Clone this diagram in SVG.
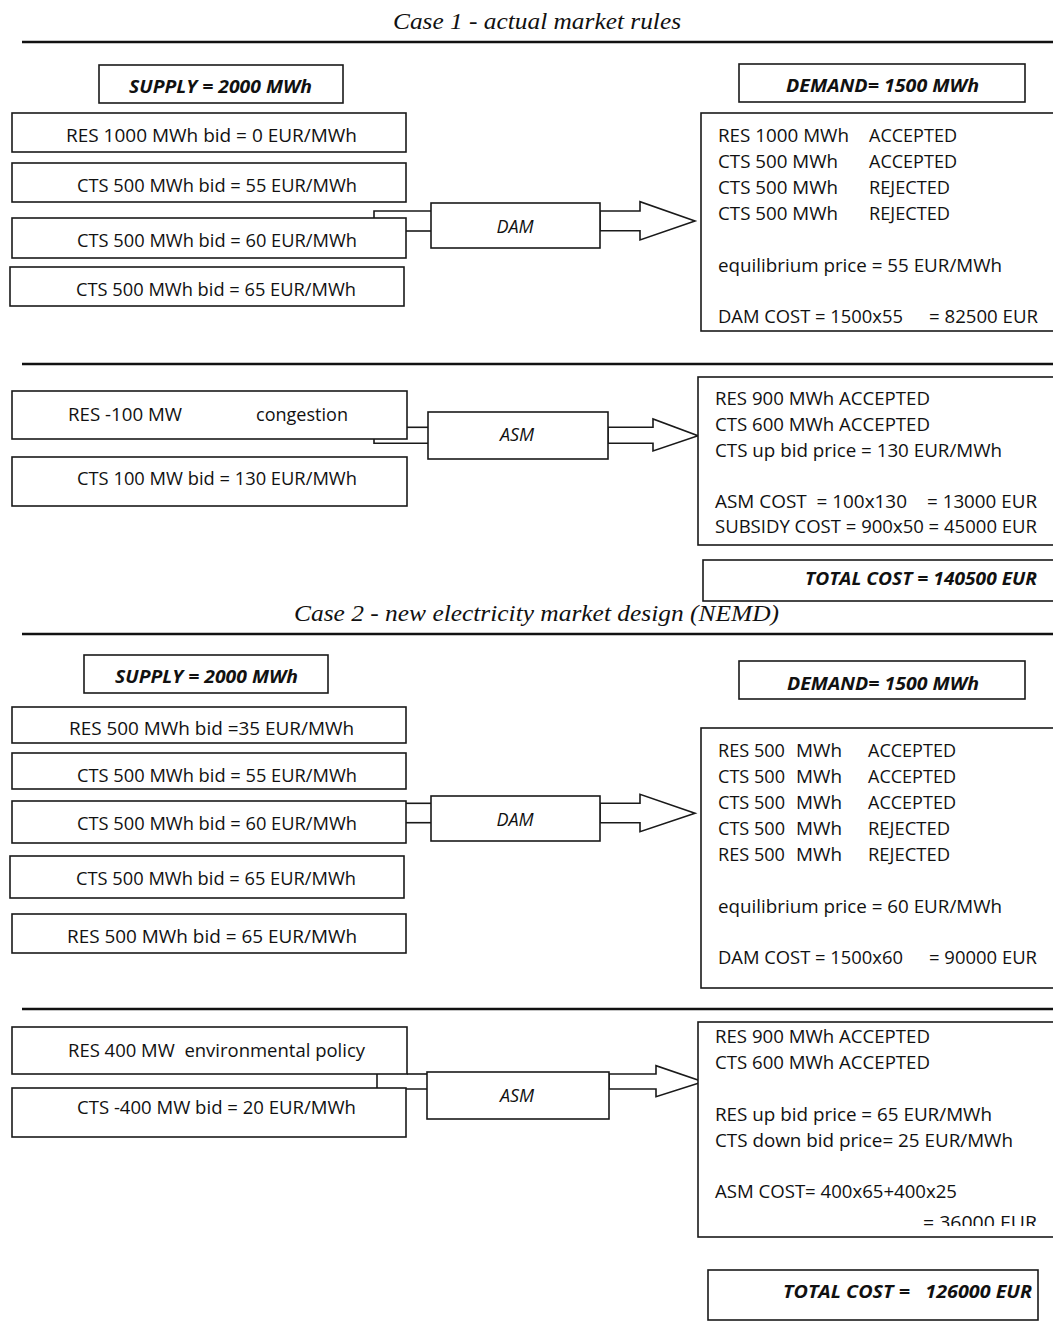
<svg xmlns="http://www.w3.org/2000/svg" width="1053" height="1322" viewBox="0 0 1053 1322">
<style>
.b{fill:#fff;stroke:#1a1a1a;stroke-width:1.6}
.t{font-family:"Open Sans","Liberation Sans",sans-serif;font-size:18px;fill:#111}
.bi{font-weight:bold;font-style:italic}
.i{font-style:italic}
.h{font-family:"Liberation Serif",serif;font-style:italic;font-size:24px;fill:#111}
.rule{stroke:#111;stroke-width:2.5}
.c{fill:none;stroke:#1a1a1a;stroke-width:1.6}
.ar{fill:#fff;stroke:#1a1a1a;stroke-width:1.6;stroke-linejoin:miter}
</style>
<defs>
<clipPath id="clip36"><rect x="900" y="1200" width="160" height="26"/></clipPath>
</defs>
<rect width="1053" height="1322" fill="#fff"/>

<g id="titles">
<text class="h" x="393" y="29" textLength="288" lengthAdjust="spacingAndGlyphs">Case 1 - actual market rules</text>
<text class="h" x="294" y="621" textLength="485" lengthAdjust="spacingAndGlyphs">Case 2 - new electricity market design (NEMD)</text>
</g>
<g id="rules">
<line class="rule" x1="22" y1="42" x2="1053" y2="42"/>
<line class="rule" x1="22" y1="364" x2="1053" y2="364"/>
<line class="rule" x1="22" y1="634" x2="1053" y2="634"/>
<line class="rule" x1="22" y1="1009" x2="1053" y2="1009"/>
</g>

<g id="connectors">
<polyline class="c" points="374,218 374,211 431,211"/>
<line class="c" x1="406" y1="231" x2="431" y2="231"/>
<polygon class="ar" points="600,211 640,211 640,201.7 695,221 640,240 640,230.7 600,230.7"/>
<line class="c" x1="407" y1="427.3" x2="428" y2="427.3"/>
<polyline class="c" points="374,439 374,443.3 428,443.3"/>
<polygon class="ar" points="608,427.3 653,427.3 653,419 698,435.7 653,451 653,443.3 608,443.3"/>
<line class="c" x1="406" y1="803.3" x2="431" y2="803.3"/>
<line class="c" x1="406" y1="822.7" x2="431" y2="822.7"/>
<polygon class="ar" points="600,803.3 640,803.3 640,794.3 695,813.3 640,831.7 640,822.7 600,822.7"/>
<line class="c" x1="407" y1="1074" x2="427" y2="1074"/>
<polyline class="c" points="377,1074 377,1089 427,1089"/>
<polygon class="ar" points="609,1074 656,1074 656,1065.7 703,1081.7 656,1096.7 656,1089 609,1089"/>
</g>

<!-- Case 1 -->
<g id="supply1"><rect class="b" x="99" y="65" width="244" height="38"/><text class="t bi" x="129" y="93" textLength="183" lengthAdjust="spacingAndGlyphs">SUPPLY = 2000 MWh</text></g>
<g id="demand1"><rect class="b" x="739" y="64" width="286" height="38"/><text class="t bi" x="786" y="92" textLength="193" lengthAdjust="spacingAndGlyphs">DEMAND= 1500 MWh</text></g>
<g id="c1bid1"><rect class="b" x="12" y="113" width="394" height="39"/><text class="t" x="66" y="142" textLength="291" lengthAdjust="spacingAndGlyphs">RES 1000 MWh bid = 0 EUR/MWh</text></g>
<g id="c1bid2"><rect class="b" x="12" y="163" width="394" height="39"/><text class="t" x="77" y="192" textLength="280" lengthAdjust="spacingAndGlyphs">CTS 500 MWh bid = 55 EUR/MWh</text></g>
<g id="c1bid3"><rect class="b" x="12" y="218" width="394" height="40"/><text class="t" x="77" y="247" textLength="280" lengthAdjust="spacingAndGlyphs">CTS 500 MWh bid = 60 EUR/MWh</text></g>
<g id="c1bid4"><rect class="b" x="10" y="267" width="394" height="39"/><text class="t" x="76" y="296" textLength="280" lengthAdjust="spacingAndGlyphs">CTS 500 MWh bid = 65 EUR/MWh</text></g>
<g id="dam1"><rect class="b" x="431" y="203" width="169" height="45"/><text class="t i" x="515" y="232.5" text-anchor="middle">DAM</text></g>
<g id="dam1result">
<rect class="b" x="701" y="113" width="360" height="218"/>
<text class="t" x="718" y="142" textLength="131" lengthAdjust="spacingAndGlyphs">RES 1000 MWh</text><text class="t" x="869" y="142" textLength="88" lengthAdjust="spacingAndGlyphs">ACCEPTED</text>
<text class="t" x="718" y="168" textLength="120" lengthAdjust="spacingAndGlyphs">CTS 500 MWh</text><text class="t" x="869" y="168" textLength="88" lengthAdjust="spacingAndGlyphs">ACCEPTED</text>
<text class="t" x="718" y="194" textLength="120" lengthAdjust="spacingAndGlyphs">CTS 500 MWh</text><text class="t" x="869" y="194" textLength="81" lengthAdjust="spacingAndGlyphs">REJECTED</text>
<text class="t" x="718" y="220" textLength="120" lengthAdjust="spacingAndGlyphs">CTS 500 MWh</text><text class="t" x="869" y="220" textLength="81" lengthAdjust="spacingAndGlyphs">REJECTED</text>
<text class="t" x="718" y="272" textLength="284" lengthAdjust="spacingAndGlyphs">equilibrium price = 55 EUR/MWh</text>
<text class="t" x="718" y="323" textLength="185" lengthAdjust="spacingAndGlyphs">DAM COST = 1500x55</text><text class="t" x="929" y="323" textLength="109" lengthAdjust="spacingAndGlyphs">= 82500 EUR</text>
</g>
<g id="c1congestion"><rect class="b" x="12" y="391" width="395" height="48"/><text class="t" x="68" y="421" textLength="114" lengthAdjust="spacingAndGlyphs">RES -100 MW</text><text class="t" x="256" y="421" textLength="92" lengthAdjust="spacingAndGlyphs">congestion</text></g>
<g id="c1ctsup"><rect class="b" x="12" y="457" width="395" height="49"/><text class="t" x="77" y="485" textLength="280" lengthAdjust="spacingAndGlyphs">CTS 100 MW bid = 130 EUR/MWh</text></g>
<g id="asm1"><rect class="b" x="428" y="412" width="180" height="47"/><text class="t i" x="517" y="441" text-anchor="middle">ASM</text></g>
<g id="asm1result">
<rect class="b" x="698" y="377" width="363" height="168"/>
<text class="t" x="715" y="405" textLength="215" lengthAdjust="spacingAndGlyphs">RES 900 MWh ACCEPTED</text>
<text class="t" x="715" y="431" textLength="215" lengthAdjust="spacingAndGlyphs">CTS 600 MWh ACCEPTED</text>
<text class="t" x="715" y="457" textLength="287" lengthAdjust="spacingAndGlyphs">CTS up bid price = 130 EUR/MWh</text>
<text class="t" x="715" y="508" textLength="192" lengthAdjust="spacingAndGlyphs" xml:space="preserve">ASM COST  = 100x130</text><text class="t" x="927" y="508" textLength="110" lengthAdjust="spacingAndGlyphs">= 13000 EUR</text>
<text class="t" x="715" y="533" textLength="322" lengthAdjust="spacingAndGlyphs">SUBSIDY COST = 900x50 = 45000 EUR</text>
</g>
<g id="total1"><rect class="b" x="703" y="560" width="360" height="41"/><text class="t bi" x="805" y="585" textLength="232" lengthAdjust="spacingAndGlyphs">TOTAL COST = 140500 EUR</text></g>

<!-- Case 2 -->
<g id="supply2"><rect class="b" x="84" y="655" width="244" height="38"/><text class="t bi" x="115" y="683" textLength="183" lengthAdjust="spacingAndGlyphs">SUPPLY = 2000 MWh</text></g>
<g id="demand2"><rect class="b" x="739" y="661" width="286" height="38"/><text class="t bi" x="787" y="690" textLength="192" lengthAdjust="spacingAndGlyphs">DEMAND= 1500 MWh</text></g>
<g id="c2bid1"><rect class="b" x="12" y="707" width="394" height="36"/><text class="t" x="69" y="735" textLength="285" lengthAdjust="spacingAndGlyphs">RES 500 MWh bid =35 EUR/MWh</text></g>
<g id="c2bid2"><rect class="b" x="12" y="753" width="394" height="36"/><text class="t" x="77" y="782" textLength="280" lengthAdjust="spacingAndGlyphs">CTS 500 MWh bid = 55 EUR/MWh</text></g>
<g id="c2bid3"><rect class="b" x="12" y="801" width="394" height="42"/><text class="t" x="77" y="830" textLength="280" lengthAdjust="spacingAndGlyphs">CTS 500 MWh bid = 60 EUR/MWh</text></g>
<g id="c2bid4"><rect class="b" x="10" y="856" width="394" height="42"/><text class="t" x="76" y="885" textLength="280" lengthAdjust="spacingAndGlyphs">CTS 500 MWh bid = 65 EUR/MWh</text></g>
<g id="c2bid5"><rect class="b" x="12" y="914" width="394" height="39"/><text class="t" x="67" y="943" textLength="290" lengthAdjust="spacingAndGlyphs">RES 500 MWh bid = 65 EUR/MWh</text></g>
<g id="dam2"><rect class="b" x="431" y="796" width="169" height="45"/><text class="t i" x="515" y="825.5" text-anchor="middle">DAM</text></g>
<g id="dam2result">
<rect class="b" x="701" y="728" width="360" height="260"/>
<text class="t" x="718" y="757" textLength="67" lengthAdjust="spacingAndGlyphs">RES 500</text><text class="t" x="796" y="757" textLength="46" lengthAdjust="spacingAndGlyphs">MWh</text><text class="t" x="868" y="757" textLength="88" lengthAdjust="spacingAndGlyphs">ACCEPTED</text>
<text class="t" x="718" y="783" textLength="67" lengthAdjust="spacingAndGlyphs">CTS 500</text><text class="t" x="796" y="783" textLength="46" lengthAdjust="spacingAndGlyphs">MWh</text><text class="t" x="868" y="783" textLength="88" lengthAdjust="spacingAndGlyphs">ACCEPTED</text>
<text class="t" x="718" y="809" textLength="67" lengthAdjust="spacingAndGlyphs">CTS 500</text><text class="t" x="796" y="809" textLength="46" lengthAdjust="spacingAndGlyphs">MWh</text><text class="t" x="868" y="809" textLength="88" lengthAdjust="spacingAndGlyphs">ACCEPTED</text>
<text class="t" x="718" y="835" textLength="67" lengthAdjust="spacingAndGlyphs">CTS 500</text><text class="t" x="796" y="835" textLength="46" lengthAdjust="spacingAndGlyphs">MWh</text><text class="t" x="868" y="835" textLength="82" lengthAdjust="spacingAndGlyphs">REJECTED</text>
<text class="t" x="718" y="861" textLength="67" lengthAdjust="spacingAndGlyphs">RES 500</text><text class="t" x="796" y="861" textLength="46" lengthAdjust="spacingAndGlyphs">MWh</text><text class="t" x="868" y="861" textLength="82" lengthAdjust="spacingAndGlyphs">REJECTED</text>
<text class="t" x="718" y="913" textLength="284" lengthAdjust="spacingAndGlyphs">equilibrium price = 60 EUR/MWh</text>
<text class="t" x="718" y="964" textLength="185" lengthAdjust="spacingAndGlyphs">DAM COST = 1500x60</text><text class="t" x="929" y="964" textLength="108" lengthAdjust="spacingAndGlyphs">= 90000 EUR</text>
</g>
<g id="c2envpolicy"><rect class="b" x="12" y="1027" width="395" height="47"/><text class="t" x="68" y="1057" textLength="297" lengthAdjust="spacingAndGlyphs" xml:space="preserve">RES 400 MW  environmental policy</text></g>
<g id="c2ctsdown"><rect class="b" x="12" y="1088" width="394" height="49"/><text class="t" x="77" y="1114" textLength="279" lengthAdjust="spacingAndGlyphs">CTS -400 MW bid = 20 EUR/MWh</text></g>
<g id="asm2"><rect class="b" x="427" y="1072" width="182" height="47"/><text class="t i" x="517" y="1101.5" text-anchor="middle">ASM</text></g>
<g id="asm2result">
<rect class="b" x="698" y="1022" width="363" height="215"/>
<text class="t" x="715" y="1043" textLength="215" lengthAdjust="spacingAndGlyphs">RES 900 MWh ACCEPTED</text>
<text class="t" x="715" y="1069" textLength="215" lengthAdjust="spacingAndGlyphs">CTS 600 MWh ACCEPTED</text>
<text class="t" x="715" y="1121" textLength="277" lengthAdjust="spacingAndGlyphs">RES up bid price = 65 EUR/MWh</text>
<text class="t" x="715" y="1147" textLength="298" lengthAdjust="spacingAndGlyphs">CTS down bid price= 25 EUR/MWh</text>
<text class="t" x="715" y="1198" textLength="242" lengthAdjust="spacingAndGlyphs">ASM COST= 400x65+400x25</text>
<text class="t" x="923" y="1229" textLength="114" lengthAdjust="spacingAndGlyphs" clip-path="url(#clip36)">= 36000 EUR</text>
</g>
<g id="total2"><rect class="b" x="708" y="1270" width="330" height="50"/><text class="t bi" x="783" y="1298" textLength="249" lengthAdjust="spacingAndGlyphs" xml:space="preserve">TOTAL COST =   126000 EUR</text></g>
</svg>
